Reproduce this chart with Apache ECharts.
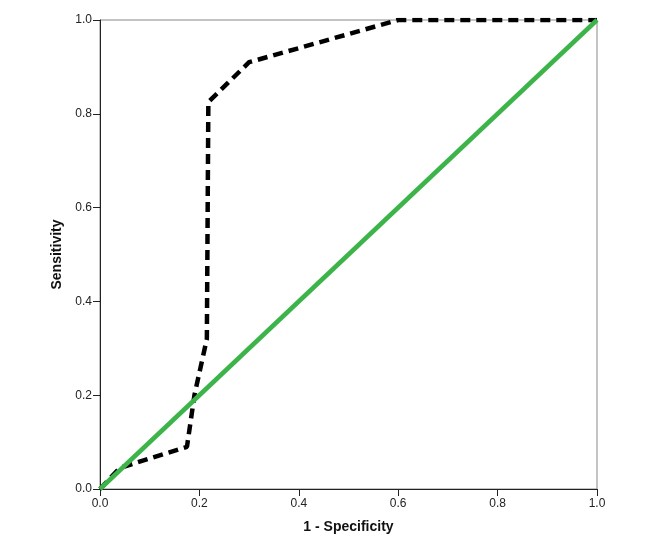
<!DOCTYPE html>
<html>
<head>
<meta charset="utf-8">
<script src="https://cdn.jsdelivr.net/npm/echarts@6/dist/echarts.min.js"></script>
<style>
  html, body { margin: 0; padding: 0; background: #fff; }
  #chart { width: 646px; height: 549px; }
</style>
</head>
<body>
<div id="chart"></div>
<script>
// courbe ROC (1 - spécificité, sensibilité)
const rocX = [0, 0.04, 0.175, 0.19, 0.215, 0.218, 0.30, 0.60, 1.0];
const rocY = [0, 0.045, 0.09, 0.20, 0.32, 0.825, 0.91, 1.0, 1.0];
// diagonale de référence
const refX = [0, 1];
const refY = [0, 1];

const chart = echarts.init(document.getElementById('chart'));

const axisCommon = {
    type: 'value',
    min: 0,
    max: 1,
    interval: 0.2,
    nameLocation: 'middle',
    nameTextStyle: { fontFamily: 'Liberation Sans', fontSize: 14, fontWeight: 'bold', color: '#111' },
    axisLine: { show: true, lineStyle: { color: '#222', width: 1 } },
    axisTick: { show: true, inside: false, length: 7, lineStyle: { color: '#222' } },
    axisLabel: {
        fontFamily: 'Liberation Sans', fontSize: 12, color: '#222',
        formatter: v => v.toFixed(1)
    },
    splitLine: { show: false }
};

const option = {
    animation: false,
    backgroundColor: '#fff',
    grid: {
        left: 100, right: 49, top: 20, bottom: 60,
        show: true, borderColor: '#888', borderWidth: 1
    },
    xAxis: Object.assign({}, axisCommon, {
        name: '1 - Specificity', nameGap: 31,
        axisLabel: Object.assign({}, axisCommon.axisLabel, { margin: 9 })
    }),
    yAxis: Object.assign({}, axisCommon, {
        name: 'Sensitivity', nameGap: 36,
        axisLabel: Object.assign({}, axisCommon.axisLabel, { margin: 8 })
    }),
    series: [
        {
            type: 'line',
            data: rocX.map((x, i) => [x, rocY[i]]),
            symbol: 'none',
            lineStyle: { color: '#000', width: 4.5, type: [10, 6] },
            z: 2
        },
        {
            type: 'line',
            data: refX.map((x, i) => [x, refY[i]]),
            symbol: 'none',
            lineStyle: { color: '#3cb44a', width: 4.5 },
            z: 3
        }
    ]
};

chart.setOption(option);
</script>
</body>
</html>
